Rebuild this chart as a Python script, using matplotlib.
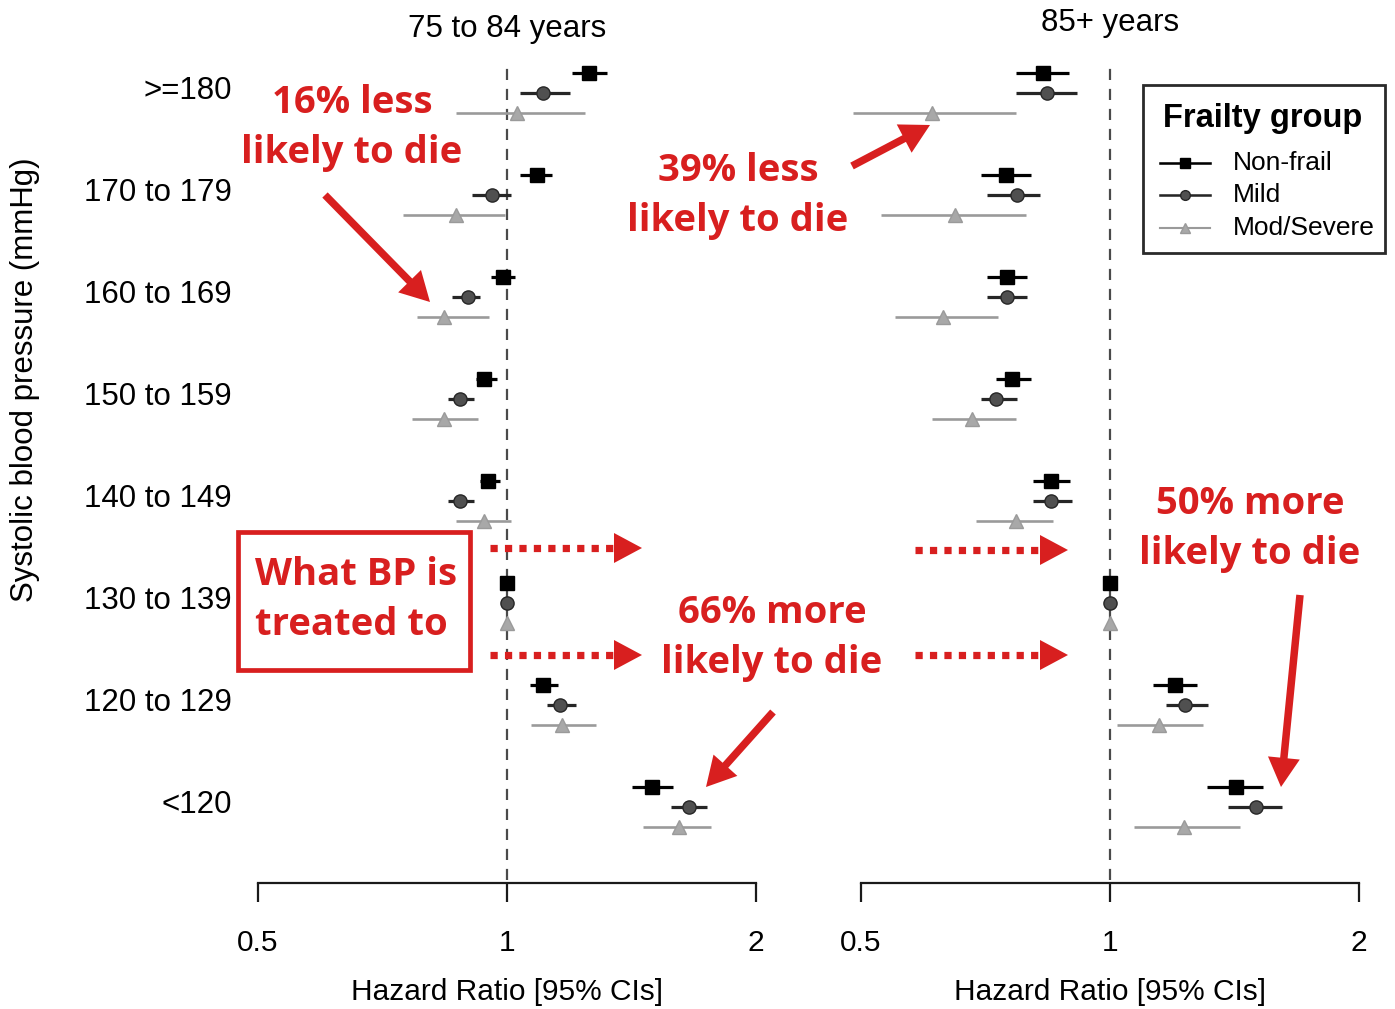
import matplotlib
matplotlib.use("Agg")
import matplotlib.pyplot as plt
import numpy as np
from matplotlib.patches import FancyArrowPatch, Rectangle, Polygon
from matplotlib.lines import Line2D
from matplotlib.ticker import FixedLocator, NullLocator

plt.rcParams["font.family"] = ["Liberation Sans", "DejaVu Sans"]

# ---- data -------------------------------------------------------------
bp_bands = [">=180", "170 to 179", "160 to 169", "150 to 159",
            "140 to 149", "130 to 139", "120 to 129", "<120"]
groups = ["Non-frail", "Mild", "Mod/Severe"]
x_ticks = [0.5, 1, 2]
x_tick_labels = ["0.5", "1", "2"]
panel_titles = ["75 to 84 years", "85+ years"]

# 75 to 84 years
a1_nonfrail_hr = [1.256, 1.087, 0.989, 0.938, 0.949, 1.0, 1.105, 1.497]
a1_nonfrail_lo = [1.198, 1.037, 0.956, 0.917, 0.928, 1.0, 1.066, 1.416]
a1_nonfrail_hi = [1.321, 1.133, 1.022, 0.973, 0.981, 1.0, 1.152, 1.587]
a1_mild_hr = [1.105, 0.959, 0.897, 0.877, 0.877, 1.0, 1.159, 1.66]
a1_mild_lo = [1.037, 0.907, 0.858, 0.849, 0.849, 1.0, 1.118, 1.579]
a1_mild_hi = [1.192, 1.011, 0.928, 0.912, 0.912, 1.0, 1.212, 1.745]
a1_modsev_hr = [1.028, 0.868, 0.84, 0.839, 0.938, 1.0, 1.165, 1.614]
a1_modsev_lo = [0.868, 0.749, 0.778, 0.768, 0.868, 1.0, 1.069, 1.460]
a1_modsev_hi = [1.242, 0.994, 0.951, 0.923, 1.011, 1.0, 1.281, 1.764]

# 85+ years
a2_nonfrail_hr = [0.830, 0.749, 0.751, 0.761, 0.849, 1.0, 1.198, 1.420]
a2_nonfrail_lo = [0.770, 0.698, 0.710, 0.728, 0.807, 1.0, 1.127, 1.310]
a2_nonfrail_hi = [0.892, 0.803, 0.794, 0.803, 0.895, 1.0, 1.274, 1.531]
a2_mild_hr = [0.839, 0.772, 0.751, 0.728, 0.849, 1.0, 1.232, 1.50]
a2_mild_lo = [0.770, 0.710, 0.710, 0.698, 0.807, 1.0, 1.169, 1.389]
a2_mild_hi = [0.912, 0.823, 0.794, 0.772, 0.900, 1.0, 1.314, 1.614]
a2_modsev_hr = [0.61, 0.650, 0.628, 0.681, 0.770, 1.0, 1.146, 1.229]
a2_modsev_lo = [0.489, 0.529, 0.549, 0.609, 0.689, 1.0, 1.020, 1.069]
a2_modsev_hi = [0.770, 0.792, 0.732, 0.770, 0.853, 1.0, 1.295, 1.436]

panels = [
    [(a1_nonfrail_hr, a1_nonfrail_lo, a1_nonfrail_hi),
     (a1_mild_hr, a1_mild_lo, a1_mild_hi),
     (a1_modsev_hr, a1_modsev_lo, a1_modsev_hi)],
    [(a2_nonfrail_hr, a2_nonfrail_lo, a2_nonfrail_hi),
     (a2_mild_hr, a2_mild_lo, a2_mild_hi),
     (a2_modsev_hr, a2_modsev_lo, a2_modsev_hi)],
]

# ---- styling ----------------------------------------------------------
W, H = 1395, 1009
RED = "#d81f1f"
styles = [
    dict(marker="s", color="#000000", mfc="#000000", mec="#000000", ms=10, lw=2.3),
    dict(marker="o", color="#262626", mfc="#505050", mec="#262626", ms=9.5, lw=2.3),
    dict(marker="^", color="#9a9a9a", mfc="#a8a8a8", mec="#9a9a9a", ms=10.5, lw=1.9),
]
offsets = [0.196, 0.0, -0.196]


def fx(x):
    return x / W


def fy(y):
    return 1 - y / H


fig = plt.figure(figsize=(W / 100, H / 100), dpi=100)

ax_top, ax_bot = 50, 883
axes_x = [(258, 756), (861, 1359)]
row_y = -np.arange(len(bp_bands))
ylim = (-7.745, 0.42)

axes = []
for k, (x0, x1) in enumerate(axes_x):
    ax = fig.add_axes([fx(x0), fy(ax_bot), (x1 - x0) / W, (ax_bot - ax_top) / H])
    ax.set_xscale("log")
    ax.set_xlim(0.5, 2)
    ax.set_ylim(*ylim)
    for s in ["top", "right", "left"]:
        ax.spines[s].set_visible(False)
    ax.spines["bottom"].set_linewidth(1.6)
    ax.spines["bottom"].set_color("#1a1a1a")
    ax.xaxis.set_major_locator(FixedLocator(x_ticks))
    ax.xaxis.set_minor_locator(NullLocator())
    ax.set_xticklabels(x_tick_labels, fontsize=21.5)
    ax.tick_params(axis="x", length=14, width=1.6, pad=19, color="#1a1a1a")
    ax.set_xlabel("Hazard Ratio [95% CIs]", fontsize=21.5, labelpad=15)
    ax.axvline(1, ymin=0.004, ymax=0.982, color="#4a4a4a", lw=1.6,
               ls=(0, (5, 4)), zorder=1)
    ax.set_title(panel_titles[k], fontsize=22.5, pad=9 if k == 0 else 14)
    for g, (hr, lo, hi) in enumerate(panels[k]):
        st = styles[g]
        y = row_y + offsets[g]
        hr = np.array(hr); lo = np.array(lo); hi = np.array(hi)
        ax.errorbar(hr, y, xerr=[hr - lo, hi - hr], fmt=st["marker"],
                    color=st["color"], mfc=st["mfc"], mec=st["mec"],
                    ms=st["ms"], elinewidth=st["lw"], capsize=0,
                    clip_on=False, zorder=3)
    if k == 0:
        ax.set_yticks(row_y + 0.05)
        ax.set_yticklabels(bp_bands, fontsize=22.5)
        ax.tick_params(axis="y", length=0, pad=19)
    else:
        ax.set_yticks([])
    axes.append(ax)

fig.text(fx(25), fy(380), "Systolic blood pressure (mmHg)", rotation=90,
         fontsize=22.5, ha="center", va="center")

# ---- legend box (R-style key) ------------------------------------------
fig.add_artist(Rectangle((fx(1143), fy(253)), fx(1385) - fx(1143), fy(85) - fy(253),
                         transform=fig.transFigure, fill=False,
                         ec="#2a2a2a", lw=2.0))
fig.text(fx(1163), fy(118), "Frailty group", fontsize=23.5, weight="bold",
         ha="left", va="center")
for g, (name, yy) in enumerate(zip(groups, [163, 195, 228])):
    st = styles[g]
    fig.add_artist(Line2D([fx(1160), fx(1210)], [fy(yy), fy(yy)],
                          transform=fig.transFigure, color=st["color"],
                          lw=st["lw"] * 0.8))
    fig.add_artist(Line2D([fx(1185)], [fy(yy)], transform=fig.transFigure,
                          marker=st["marker"], mfc=st["mfc"], mec=st["mec"],
                          ms=7, lw=0))
    fig.text(fx(1233), fy(yy), name, fontsize=19, ha="left", va="center")

# ---- annotations --------------------------------------------------------
tfont = dict(family=["Open Sans", "DejaVu Sans"], weight="bold", color=RED,
             fontsize=27.5, ha="center", va="center", linespacing=1.4)

fig.text(fx(352), fy(128), "16% less\nlikely to die", **tfont)
fig.text(fx(738), fy(196), "39% less\nlikely to die", **tfont)
fig.text(fx(772), fy(638), "66% more\nlikely to die", **tfont)
fig.text(fx(1250), fy(529), "50% more\nlikely to die", **tfont)
fig.text(fx(255), fy(600), "What BP is\ntreated to",
         **{**tfont, "ha": "left"})

fig.add_artist(Rectangle((fx(238), fy(670)), fx(470) - fx(238), fy(532) - fy(670),
                         transform=fig.transFigure, fill=False, ec=RED, lw=3.4))


def solid_arrow(p0, p1):
    fig.add_artist(FancyArrowPatch(
        (fx(p0[0]), fy(p0[1])), (fx(p1[0]), fy(p1[1])),
        transform=fig.transFigure,
        arrowstyle="simple,head_length=1.05,head_width=1.15,tail_width=0.27",
        mutation_scale=20, color=RED, lw=0, shrinkA=0, shrinkB=0))


solid_arrow((325, 195), (430, 302))
solid_arrow((852, 166), (930, 125))
solid_arrow((773, 712), (706, 787))
solid_arrow((1300, 595), (1281, 787))


def dotted_arrow(x0, x1, y):
    head = 28
    fig.add_artist(Line2D([fx(x0), fx(x1 - head)], [fy(y), fy(y)],
                          transform=fig.transFigure, color=RED, lw=5.2,
                          ls=(0, (1, 1)), solid_capstyle="butt",
                          dash_capstyle="butt"))
    fig.add_artist(Polygon([(fx(x1 - head), fy(y - 15)), (fx(x1), fy(y)),
                            (fx(x1 - head), fy(y + 15))],
                           closed=True, transform=fig.transFigure,
                           color=RED, lw=0))


dotted_arrow(490, 642, 548)
dotted_arrow(490, 642, 655)
dotted_arrow(915, 1068, 550)
dotted_arrow(915, 1068, 655)

fig.savefig("out.png", dpi=100, facecolor="white")
